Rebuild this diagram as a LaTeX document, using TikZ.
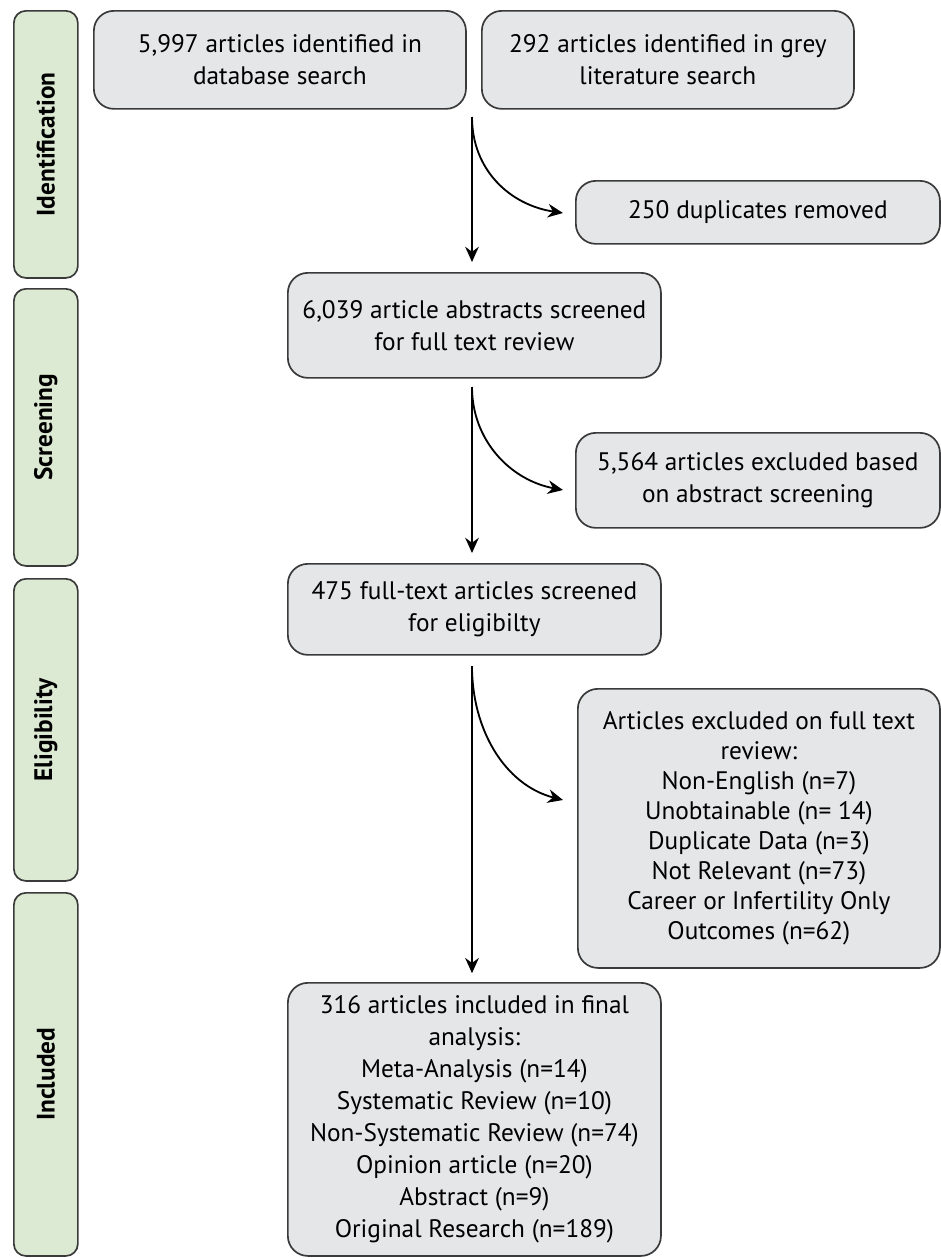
\documentclass[tikz,border=0pt]{standalone}
\usepackage{fontspec}
\setmainfont{PT Sans}
\usetikzlibrary{arrows.meta}

\definecolor{stagegreen}{HTML}{DDEAD3}
\definecolor{boxgrey}{HTML}{E5E6E8}
\definecolor{linegrey}{HTML}{3A3A3A}

\tikzset{
  stagebar/.style={draw=linegrey, fill=stagegreen, line width=1.2pt,
    rounded corners=0.3cm, anchor=north west, minimum width=1.6cm},
  stagelabel/.style={rotate=90, font=\fontsize{18}{22}\selectfont\bfseries},
  flowbox/.style={draw=linegrey, fill=boxgrey, line width=1.2pt,
    rounded corners=0.5cm, anchor=north west, align=center,
    font=\fontsize{18}{22.5}\selectfont},
  flow/.style={-{Stealth[length=0.38cm,width=0.34cm]}, line width=1.3pt},
}

\begin{document}
\begin{tikzpicture}[x=0.025cm, y=-0.025cm]

\useasboundingbox (0,0) rectangle (941,1258);

% stages
\node[stagebar, minimum height=6.675cm] (ident) at (13,10) {};
\node[stagelabel] at (ident.center) {Identification};
\node[stagebar, minimum height=6.925cm] (screen) at (13,288) {};
\node[stagelabel] at (screen.center) {Screening};
\node[stagebar, minimum height=7.55cm] (elig) at (13,578) {};
\node[stagelabel] at (elig.center) {Eligibility};
\node[stagebar, minimum height=9.075cm] (incl) at (13,892) {};
\node[stagelabel] at (incl.center) {Included};

% boxes
\node[flowbox, minimum width=9.3cm, minimum height=2.45cm] (db) at (93,10)
  {5,997 articles identified in\\database search};
\node[flowbox, minimum width=9.3cm, minimum height=2.45cm] (grey) at (481,10)
  {292 articles identified in grey\\literature search};
\node[flowbox, minimum width=9.1cm, minimum height=1.575cm] (dup) at (575,180)
  {250 duplicates removed};
\node[flowbox, minimum width=9.325cm, minimum height=2.625cm] (abs) at (287,272)
  {6,039 article abstracts screened\\for full text review};
\node[flowbox, minimum width=9.1cm, minimum height=2.375cm] (exabs) at (575,432)
  {5,564 articles excluded based\\on abstract screening};
\node[flowbox, minimum width=9.325cm, minimum height=2.275cm] (full) at (287,563)
  {475 full-text articles screened\\for eligibilty};
\node[flowbox, minimum width=9.05cm, minimum height=6.975cm,
  font=\fontsize{18}{21.3}\selectfont] (exfull) at (577,688)
  {Articles excluded on full text\\review:\\Non-English (n=7)\\Unobtainable (n= 14)\\Duplicate Data (n=3)\\Not Relevant (n=73)\\Career or Infertility Only\\Outcomes (n=62)};
\node[flowbox, minimum width=9.325cm, minimum height=6.825cm,
  font=\fontsize{18}{22.8}\selectfont] (final) at (287,982)
  {316 articles included in final\\analysis:\\Meta-Analysis (n=14)\\Systematic Review (n=10)\\Non-Systematic Review (n=74)\\Opinion article (n=20)\\Abstract (n=9)\\Original Research (n=189)};

% arrows
\coordinate (s1) at (472,117);
\coordinate (e1) at (563,213);
\coordinate (s2) at (472,387);
\coordinate (e2) at (563,490);
\coordinate (s3) at (472,666);
\coordinate (e3) at (563,800);

\draw[flow] (s1) -- ([yshift=0.25cm]abs.north -| s1);
\draw[flow] (s1) .. controls (472,170) and (510,205) .. (e1);
\draw[flow] (s2) -- ([yshift=0.25cm]full.north -| s2);
\draw[flow] (s2) .. controls (472,440) and (510,480) .. (e2);
\draw[flow] (s3) -- ([yshift=0.22cm]final.north -| s3);
\draw[flow] (s3) .. controls (472,730) and (505,785) .. (e3);

\end{tikzpicture}
\end{document}
